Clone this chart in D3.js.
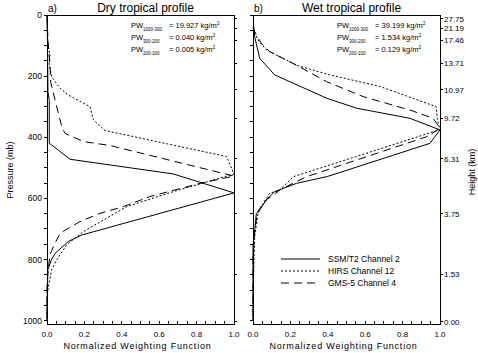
<!DOCTYPE html>
<html>
<head>
<meta charset="utf-8">
<script src="https://cdn.jsdelivr.net/npm/d3@7"></script>
<style>
body { margin: 0; background: #fff; }
svg { display: block; font-family: "Liberation Sans", Arial, sans-serif; }
</style>
</head>
<body>
<div class="chart"></div>
<script>
// axis values
const pressureLabels = [0, 200, 400, 600, 800, 1000]
const pressureMinor = d3.range(0, 1001, 50)
const weightLabels = [0, 0.2, 0.4, 0.6, 0.8, 1.0]
const weightMinor = d3.range(0, 1.001, 0.05)
const heightLabels = ["27.75", "21.19", "17.46", "13.71", "10.97", "9.72", "6.31", "3.75", "1.53", "0.00"]
const heightPressure = [13, 44, 82, 158, 245, 338, 470, 650, 848, 1004]

const channels = ["SSM/T2 Channel 2", "HIRS Channel 12", "GMS-5 Channel 4"]
const pwLayers = ["1000-300", "300-200", "200-100"]
const dryPW = ["19.927", "0.040", "0.005"]
const wetPW = ["39.199", "1.534", "0.129"]

// [weight, pressure mb]
const drySsm = [[0, 0], [0.003, 100], [0.005, 250], [0.012, 280], [0.012, 420], [0.025, 425], [0.123, 472], [0.675, 520], [1.0, 582], [0.185, 720], [0.114, 741], [0.043, 780], [0.025, 799], [0.005, 833], [0.002, 900], [0, 1000]]
const dryHirs = [[0, 0], [0.005, 100], [0.016, 130], [0.012, 160], [0.025, 202], [0.07, 240], [0.114, 262], [0.23, 300], [0.248, 343], [0.31, 378], [0.96, 463], [1.0, 520], [0.675, 578], [0.426, 627], [0.194, 709], [0.105, 752], [0.052, 801], [0.025, 834], [0.01, 880], [0, 920], [0, 1000]]
const dryGms = [[0, 0], [0.005, 80], [0.016, 164], [0.02, 220], [0.043, 278], [0.079, 365], [0.096, 387], [0.194, 414], [0.337, 427], [1.0, 527], [0.818, 551], [0.55, 594], [0.408, 627], [0.283, 649], [0.176, 676], [0.07, 714], [0.034, 758], [0.016, 785], [0.005, 840], [0, 880], [0, 1000]]

const wetSsm = [[0.003, 30], [0.009, 71], [0.036, 142], [0.116, 196], [0.393, 272], [0.554, 305], [0.839, 338], [1.0, 376], [0.946, 420], [0.4, 528], [0.232, 551], [0.116, 578], [0.071, 605], [0.036, 638], [0.018, 649], [0.01, 700], [0.005, 720], [0, 760], [0, 1000]]
const wetHirs = [[0, 45], [0.027, 82], [0.071, 114], [0.232, 164], [0.41, 196], [0.68, 234], [0.98, 300], [0.985, 338], [1.0, 375], [0.216, 529], [0.143, 573], [0.089, 583], [0.045, 627], [0.027, 649], [0.009, 725], [0.004, 834], [0, 900], [0, 1000]]
const wetGms = [[0, 40], [0.009, 55], [0.045, 93], [0.089, 120], [0.232, 164], [0.393, 218], [0.589, 267], [0.839, 311], [0.964, 338], [1.0, 371], [0.93, 398], [0.286, 529], [0.15, 570], [0.06, 610], [0.025, 645], [0.01, 700], [0.005, 750], [0, 800], [0, 1000]]

let width = 478, height = 353
let plotTop = 15, plotBottom = 324.3
let tick = 3
let styles = [null, "2,2", "8,5"]

let svg = d3.select(".chart")
    .append("svg")
    .attr("width", width)
    .attr("height", height)

let y = d3.scaleLinear().domain([0, 1012]).range([plotTop, plotBottom])

let panels = [
    { left: 47, right: 234, letter: "a)", title: "Dry tropical profile", series: [drySsm, dryHirs, dryGms], pw: dryPW },
    { left: 253, right: 440, letter: "b)", title: "Wet tropical profile", series: [wetSsm, wetHirs, wetGms], pw: wetPW }
]

panels.forEach((p, pi) => {
    let x = d3.scaleLinear().domain([0, 1]).range([p.left, p.right])
    let g = svg.append("g")

    // 曲线
    let line = d3.line().x(d => x(d[0])).y(d => y(d[1]))
    g.append("g")
        .selectAll("path")
        .data(p.series)
        .enter()
        .append("path")
        .attr("fill", "none")
        .attr("stroke", "#000")
        .attr("stroke-width", 1)
        .attr("stroke-dasharray", (d, i) => styles[i])
        .attr("d", line)

    // 边框
    g.append("rect")
        .attr("x", p.left)
        .attr("y", plotTop)
        .attr("width", p.right - p.left)
        .attr("height", plotBottom - plotTop)
        .attr("fill", "none")
        .attr("stroke", "#000")
        .attr("stroke-width", 1)
        .attr("shape-rendering", "crispEdges")

    // 左侧气压刻度
    g.append("g")
        .selectAll("line")
        .data(pressureMinor)
        .enter()
        .append("line")
        .attr("x1", p.left - tick).attr("x2", p.left)
        .attr("y1", d => y(d)).attr("y2", d => y(d))
        .attr("stroke", "#000")
        .attr("shape-rendering", "crispEdges")
    if (pi == 0) {
        g.append("g")
            .selectAll("text")
            .data(pressureLabels)
            .enter()
            .append("text")
            .attr("x", p.left - 5)
            .attr("y", d => y(d) + 3)
            .attr("text-anchor", "end")
            .attr("font-size", 8.5)
            .text(d => d)
    }

    // 右侧高度刻度
    g.append("g")
        .selectAll("line")
        .data(heightPressure)
        .enter()
        .append("line")
        .attr("x1", p.right).attr("x2", p.right + tick)
        .attr("y1", d => y(d)).attr("y2", d => y(d))
        .attr("stroke", "#000")
        .attr("shape-rendering", "crispEdges")
    if (pi == 1) {
        g.append("g")
            .selectAll("text")
            .data(heightLabels)
            .enter()
            .append("text")
            .attr("x", p.right + 4)
            .attr("y", (d, i) => y(heightPressure[i]) + 3)
            .attr("font-size", 8)
            .text(d => d)
    }

    // 底部刻度
    g.append("g")
        .selectAll("line")
        .data(weightMinor)
        .enter()
        .append("line")
        .attr("x1", d => x(d)).attr("x2", d => x(d))
        .attr("y1", plotBottom - tick).attr("y2", plotBottom)
        .attr("stroke", "#000")
        .attr("shape-rendering", "crispEdges")
    g.append("g")
        .selectAll("text")
        .data(weightLabels)
        .enter()
        .append("text")
        .attr("x", d => x(d))
        .attr("y", 337)
        .attr("text-anchor", "middle")
        .attr("font-size", 8)
        .text(d => d3.format(".1f")(d))
    g.append("text")
        .attr("x", (p.left + p.right) / 2 - 3)
        .attr("y", 349)
        .attr("text-anchor", "middle")
        .attr("font-size", 9)
        .attr("letter-spacing", 0.8)
        .text("Normalized Weighting Function")

    // 标题
    g.append("text")
        .attr("x", p.left + 1)
        .attr("y", 12)
        .attr("font-size", 10)
        .text(p.letter)
    g.append("text")
        .attr("x", (p.left + p.right) / 2 + 5)
        .attr("y", 12)
        .attr("text-anchor", "middle")
        .attr("font-size", 12)
        .text(p.title)

    // PW 注释
    p.pw.forEach((v, i) => {
        let ty = 28 + i * 12
        g.append("text")
            .attr("x", p.left + 84)
            .attr("y", ty)
            .attr("font-size", 7.5)
            .text("PW")
        g.append("text")
            .attr("x", p.left + 96)
            .attr("y", ty + 3)
            .attr("font-size", 4.5)
            .text(pwLayers[i])
        let t = g.append("text")
            .attr("x", p.left + 122)
            .attr("y", ty)
            .attr("font-size", 7.5)
        t.append("tspan").text(`= ${v} kg/m`)
        t.append("tspan").attr("dy", -3).attr("font-size", 5).text("2")
    })
})

// 纵轴标题
svg.append("text")
    .attr("transform", `translate(13,170) rotate(-90)`)
    .attr("text-anchor", "middle")
    .attr("font-size", 9)
    .text("Pressure (mb)")
svg.append("text")
    .attr("transform", `translate(475,172) rotate(-90)`)
    .attr("text-anchor", "middle")
    .attr("font-size", 9)
    .text("Height (km)")

// 图例
let legend = svg.append("g")
channels.forEach((c, i) => {
    let ly = 259 + i * 12
    legend.append("line")
        .attr("x1", 281).attr("x2", 320)
        .attr("y1", ly).attr("y2", ly)
        .attr("stroke", "#000")
        .attr("stroke-dasharray", styles[i])
    legend.append("text")
        .attr("x", 328)
        .attr("y", ly + 3)
        .attr("font-size", 8.5)
        .text(c)
})
</script>
</body>
</html>
